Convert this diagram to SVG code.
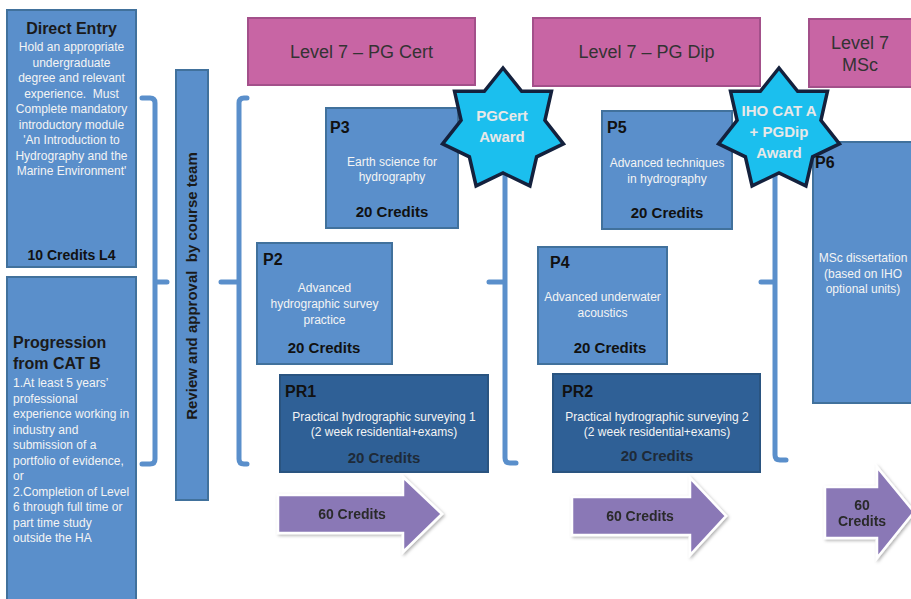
<svg xmlns="http://www.w3.org/2000/svg" xmlns:xlink="http://www.w3.org/1999/xlink" width="911" height="599" viewBox="0 0 911 599">
<style>
text{font-family:"Liberation Sans",Arial,sans-serif;}
.box{fill:#5a8fcb;stroke:#41719c;stroke-width:2;}
.dark{fill:#2f6096;stroke:#2a5480;stroke-width:2;}
.lvl{fill:#c865a4;stroke:#a3508a;stroke-width:2;}
.brace{fill:none;stroke:#5a8fcb;stroke-width:5;stroke-linecap:round;stroke-linejoin:round;}
.star{fill:#1bbfee;stroke:#14213d;stroke-width:3.5;stroke-linejoin:miter;}
.arrow{fill:#8a78b6;stroke:#ffffff;stroke-width:2.5;stroke-linejoin:miter;}
.t{font-size:12px;fill:#f4f4f4;}
.tc{text-anchor:middle;}
.id{font-size:16px;font-weight:bold;fill:#111;}
.cr{font-size:15px;font-weight:bold;fill:#111;text-anchor:middle;}
.crd{font-size:15px;font-weight:bold;fill:#1e2a38;text-anchor:middle;}
.lv{font-size:18px;fill:#333;text-anchor:middle;}
.st{font-size:15px;font-weight:bold;fill:#e8e8e8;text-anchor:middle;}
.ar{font-size:14px;font-weight:bold;fill:#2a2a2a;text-anchor:middle;}
.hd{font-size:16px;font-weight:bold;fill:#1a1a1a;}
</style>
<defs>
<path id="star7" d="M0,-62 L18.66,-38.74 L48.47,-38.66 L41.92,-9.57 L60.44,13.8 L33.62,26.81 L26.9,55.86 L0,43 L-26.9,55.86 L-33.62,26.81 L-60.44,13.8 L-41.92,-9.57 L-48.47,-38.66 L-18.66,-38.74 Z"/>
<filter id="sh" x="-10%" y="-10%" width="130%" height="130%">
<feDropShadow dx="1.5" dy="1.5" stdDeviation="1.5" flood-color="#000" flood-opacity="0.3"/>
</filter>
</defs>
<rect width="911" height="599" fill="#ffffff"/>

<g id="connectors">
<path class="brace" d="M142,98 H150 Q155,98 155,103 V459 Q155,464 150,464 H142 M155,282 H167"/>
<path class="brace" d="M247,98 H244 Q239,98 239,103 V459 Q239,464 244,464 H247 M239,282 H221"/>
<path class="brace" d="M505,110 V458 Q505,463 510,463 H516 M505,282 H489"/>
<path class="brace" d="M775,110 V455 Q775,460 780,460 H786 M775,282 H761"/>
</g>

<g id="direct-entry">
<rect class="box" x="7" y="10" width="129" height="257"/>
<text class="hd tc" x="71.5" y="34">Direct Entry</text>
<text class="t tc" x="71.5" y="51">Hold an appropriate</text>
<text class="t tc" x="71.5" y="66.5">undergraduate</text>
<text class="t tc" x="71.5" y="82">degree and relevant</text>
<text class="t tc" x="71.5" y="97.5" style="white-space:pre">experience.  Must</text>
<text class="t tc" x="71.5" y="113">Complete mandatory</text>
<text class="t tc" x="71.5" y="128.5">introductory module</text>
<text class="t tc" x="71.5" y="144">'An Introduction to</text>
<text class="t tc" x="71.5" y="159.5">Hydrography and the</text>
<text class="t tc" x="71.5" y="175">Marine Environment'</text>
<text x="71.5" y="260" style="font-size:14px;font-weight:bold;fill:#111;text-anchor:middle">10 Credits L4</text>
</g>

<g id="progression">
<rect class="box" x="7" y="277" width="129" height="330"/>
<text class="hd" x="13" y="348">Progression</text>
<text class="hd" x="13" y="369">from CAT B</text>
<text class="t" x="13" y="387">1.At least 5 years’</text>
<text class="t" x="13" y="402.5">professional</text>
<text class="t" x="13" y="418">experience working in</text>
<text class="t" x="13" y="433.5">industry and</text>
<text class="t" x="13" y="449">submission of a</text>
<text class="t" x="13" y="464.5">portfolio of evidence,</text>
<text class="t" x="13" y="480">or</text>
<text class="t" x="13" y="495.5">2.Completion of Level</text>
<text class="t" x="13" y="511">6 through full time or</text>
<text class="t" x="13" y="526.5">part time study</text>
<text class="t" x="13" y="542">outside the HA</text>
</g>

<g id="review">
<rect class="box" x="176" y="70" width="32" height="430"/>
<text transform="translate(197,286) rotate(-90)" style="font-size:15px;font-weight:bold;fill:#1a1a1a;text-anchor:middle;white-space:pre">Review and approval  by course team</text>
</g>

<g id="level-pgcert">
<rect class="lvl" x="248" y="18" width="227" height="67"/>
<text class="lv" x="361.5" y="58">Level 7 – PG Cert</text>
</g>
<g id="level-pgdip">
<rect class="lvl" x="533" y="18" width="227" height="68"/>
<text class="lv" x="646.5" y="58">Level 7 – PG Dip</text>
</g>
<g id="level-msc">
<rect class="lvl" x="809" y="19" width="110" height="68"/>
<text class="lv" x="860" y="49">Level 7</text>
<text class="lv" x="860" y="71">MSc</text>
</g>

<g id="p3">
<rect class="box" x="326" y="108" width="132" height="120"/>
<text class="id" x="330" y="133">P3</text>
<text class="t tc" x="392" y="166">Earth science for</text>
<text class="t tc" x="392" y="181">hydrography</text>
<text class="cr" x="392" y="217">20 Credits</text>
</g>

<g id="p2">
<rect class="box" x="257" y="243" width="135" height="121"/>
<text class="id" x="263" y="265">P2</text>
<text class="t tc" x="324.5" y="292">Advanced</text>
<text class="t tc" x="324.5" y="308">hydrographic survey</text>
<text class="t tc" x="324.5" y="324">practice</text>
<text class="cr" x="324" y="353">20 Credits</text>
</g>

<g id="pr1">
<rect class="dark" x="280" y="375" width="208" height="97"/>
<text class="id" x="285" y="397">PR1</text>
<text class="t tc" x="384" y="421">Practical hydrographic surveying 1</text>
<text class="t tc" x="384" y="436">(2 week residential+exams)</text>
<text class="crd" x="384" y="463">20 Credits</text>
</g>

<g id="p5">
<rect class="box" x="602" y="111" width="130" height="118"/>
<text class="id" x="607" y="133">P5</text>
<text class="t tc" x="667" y="167">Advanced techniques</text>
<text class="t tc" x="667" y="183">in hydrography</text>
<text class="cr" x="667" y="218">20 Credits</text>
</g>

<g id="p4">
<rect class="box" x="538" y="247" width="129" height="117"/>
<text class="id" x="550" y="268">P4</text>
<text class="t tc" x="602.5" y="301">Advanced underwater</text>
<text class="t tc" x="602.5" y="317">acoustics</text>
<text class="cr" x="610" y="353">20 Credits</text>
</g>

<g id="pr2">
<rect class="dark" x="553" y="374" width="207" height="98"/>
<text class="id" x="562" y="397">PR2</text>
<text class="t tc" x="657" y="421">Practical hydrographic surveying 2</text>
<text class="t tc" x="657" y="436">(2 week residential+exams)</text>
<text class="crd" x="657" y="461">20 Credits</text>
</g>

<g id="p6">
<rect class="box" x="813" y="142" width="110" height="261"/>
<text class="t tc" x="863" y="262">MSc dissertation</text>
<text class="t tc" x="863" y="278">(based on IHO</text>
<text class="t tc" x="863" y="293">optional units)</text>
</g>

<g id="pgcert-award">
<use href="#star7" class="star" x="503" y="130"/>
<text class="st" x="502" y="121">PGCert</text>
<text class="st" x="502" y="142">Award</text>
</g>

<g id="iho-award">
<use href="#star7" class="star" x="779" y="130"/>
<text class="st" x="779" y="116">IHO CAT A</text>
<text class="st" x="779" y="137">+ PGDip</text>
<text class="st" x="779" y="158">Award</text>
</g>
<text class="id" x="815" y="168">P6</text>

<g id="arrow-1" filter="url(#sh)">
<path class="arrow" d="M278,495 H403 V477 L442,514 L403,552 V533 H278 Z"/>
<text class="ar" x="352" y="519">60 Credits</text>
</g>
<g id="arrow-2" filter="url(#sh)">
<path class="arrow" d="M572,497 H690 V478 L726,516 L690,555 V535 H572 Z"/>
<text class="ar" x="640" y="521">60 Credits</text>
</g>
<g id="arrow-3" filter="url(#sh)">
<path class="arrow" d="M825,487 H877 V467 L914,512 L877,558 V538 H825 Z"/>
<text class="ar" x="862" y="510">60</text>
<text class="ar" x="862" y="526">Credits</text>
</g>
</svg>
